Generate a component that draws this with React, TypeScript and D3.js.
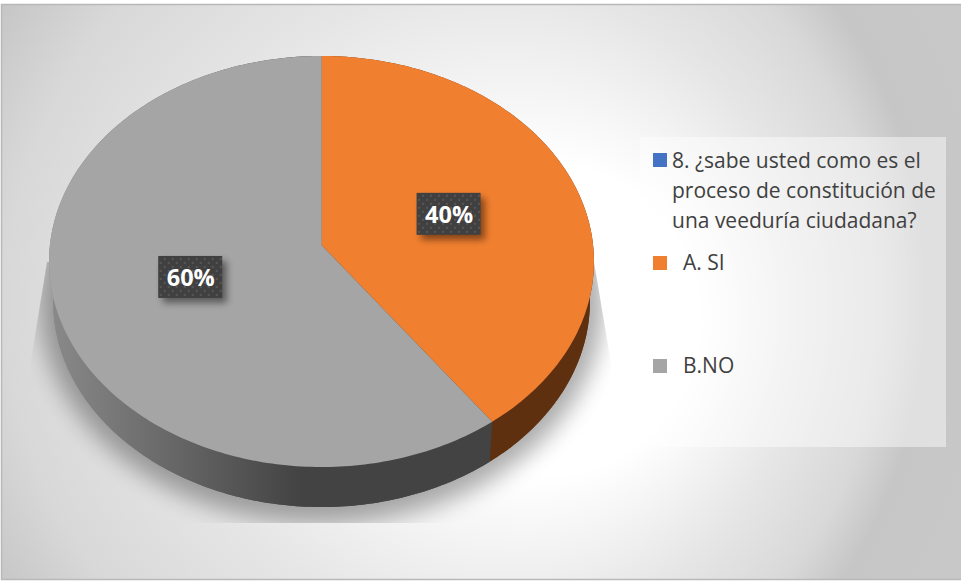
import React from "react";
import * as d3 from "d3";

const categories = ["A. SI", "B.NO"];
const values = [40, 60];
const labels = ["40%", "60%"];
const seriesName = ["8. ¿sabe usted como es el", "proceso de constitución de", "una veeduría ciudadana?"];

const topColors = ["#f17f30", "#a5a5a5"];
const width = 961;
const height = 581;

// perspective disc: u/v on the unit circle -> screen
const cx = 321.5;
const cy = 245;
const rx = 271.6;
const ry = 204.2;
const k = 0.0803;
const depth = 40;

const project = (angle: number, r: number, lower = false): [number, number] => {
  const u = Math.sin(angle) * r;
  const v = -Math.cos(angle) * r;
  const w = 1 - k * v;
  const sx = lower ? 0.985 : 1;
  return [cx + (rx * sx * u) / w, cy + (ry * v) / w + (lower ? depth : 0)];
};

const slices = d3.pie<number>().sort(null)(values);

const arcPoints = (a0: number, a1: number, lower = false) => {
  const n = Math.max(2, Math.ceil((a1 - a0) * 60));
  return d3.range(n + 1).map((i) => project(a0 + ((a1 - a0) * i) / n, 1, lower));
};

const line = d3.line();

const slicePath = (a0: number, a1: number, lower = false) =>
  line([project(0, 0, lower), ...arcPoints(a0, a1, lower)]) + "Z";

const bandPath = (a0: number, a1: number) =>
  line([...arcPoints(a0, a1), ...arcPoints(a0, a1, true).reverse()]) + "Z";

const App = () => {
  return (
    <svg
      width={width}
      height={height}
      style={{ position: "absolute", left: 0, top: 0, display: "block" }}
      fontFamily="'Open Sans', sans-serif"
    >
      <defs>
        <radialGradient id="bg" gradientUnits="userSpaceOnUse" cx={380} cy={290} r={620} fx={600} fy={330}>
          <stop offset="0" stopColor="#ffffff" />
          <stop offset="0.25" stopColor="#ffffff" />
          <stop offset="0.52" stopColor="#e6e6e6" />
          <stop offset="0.71" stopColor="#d8d8d8" />
          <stop offset="0.82" stopColor="#c6c6c6" />
          <stop offset="1" stopColor="#c8c8c8" />
        </radialGradient>
        <linearGradient id="side" gradientUnits="userSpaceOnUse" x1={49} x2={300} y1={0} y2={0}>
          <stop offset="0" stopColor="#8a8a8a" />
          <stop offset="1" stopColor="#434343" />
        </linearGradient>
        <filter id="blur" x="-20%" y="-20%" width="140%" height="140%">
          <feGaussianBlur stdDeviation="11" />
        </filter>
        <filter id="boxShadow" x="-30%" y="-30%" width="170%" height="170%">
          <feGaussianBlur stdDeviation="3.5" />
        </filter>
        <clipPath id="shadowClip">
          <path d="M47,262L31,360L31,523L611,523L611,363L594,262Z" />
        </clipPath>
        <pattern id="dots" width={8} height={8} patternUnits="userSpaceOnUse">
          <rect width={8} height={8} fill="#404040" />
          <rect x={1} y={1} width={2} height={2} fill="#575757" />
          <rect x={5} y={5} width={2} height={2} fill="#575757" />
        </pattern>
      </defs>

      <rect x={0} y={0} width={width} height={height} fill="#ffffff" />
      <rect x={1.5} y={4.5} width={width + 5} height={575} fill="url(#bg)" stroke="#b8b8b8" strokeWidth={1.5} />

      <g clipPath="url(#shadowClip)">
        <path d={slicePath(0, Math.PI * 2, true)} transform="translate(321.5 301) scale(1.05 1.08) translate(-321.5 -301)" fill="#000000" opacity={0.33} filter="url(#blur)" />
      </g>

      <rect x={640} y={137} width={306} height={310} fill="#ffffff" opacity={0.45} />

      {slices.map((s, i) => (
        <g key={"side" + i}>
          <path d={slicePath(s.startAngle, s.endAngle, true)} fill={i === 0 ? "#5f3010" : "url(#side)"} />
          <path d={bandPath(s.startAngle, s.endAngle)} fill={i === 0 ? "#5f3010" : "url(#side)"} />
        </g>
      ))}
      {slices.map((s, i) => (
        <path key={"top" + i} d={slicePath(s.startAngle, s.endAngle)} fill={topColors[i]} />
      ))}

      {slices.map((s, i) => {
        const [x, y] = project((s.startAngle + s.endAngle) / 2, 0.5);
        return (
          <g key={"label" + i} transform={`translate(${x},${y})`}>
            <rect x={-28} y={-16} width={64} height={42} fill="#000000" opacity={0.45} filter="url(#boxShadow)" />
            <rect x={-32.5} y={-21} width={64} height={42} fill="url(#dots)" />
            <text y={8.7} textAnchor="middle" fontSize={23.5} fontWeight={700} fill="#ffffff">
              {labels[i]}
            </text>
          </g>
        );
      })}

      <rect x={653} y={153} width={14} height={14} fill="#4472c4" />
      {seriesName.map((t, i) => (
        <text key={t} x={672} y={168 + i * 30} fontSize={21} fill="#404040">
          {t}
        </text>
      ))}
      {categories.map((c, i) => (
        <g key={c}>
          <rect x={653} y={256 + i * 103} width={14} height={14} fill={topColors[i]} />
          <text x={683} y={270 + i * 103} fontSize={21} fill="#404040">
            {c}
          </text>
        </g>
      ))}
    </svg>
  );
};

export default App;
